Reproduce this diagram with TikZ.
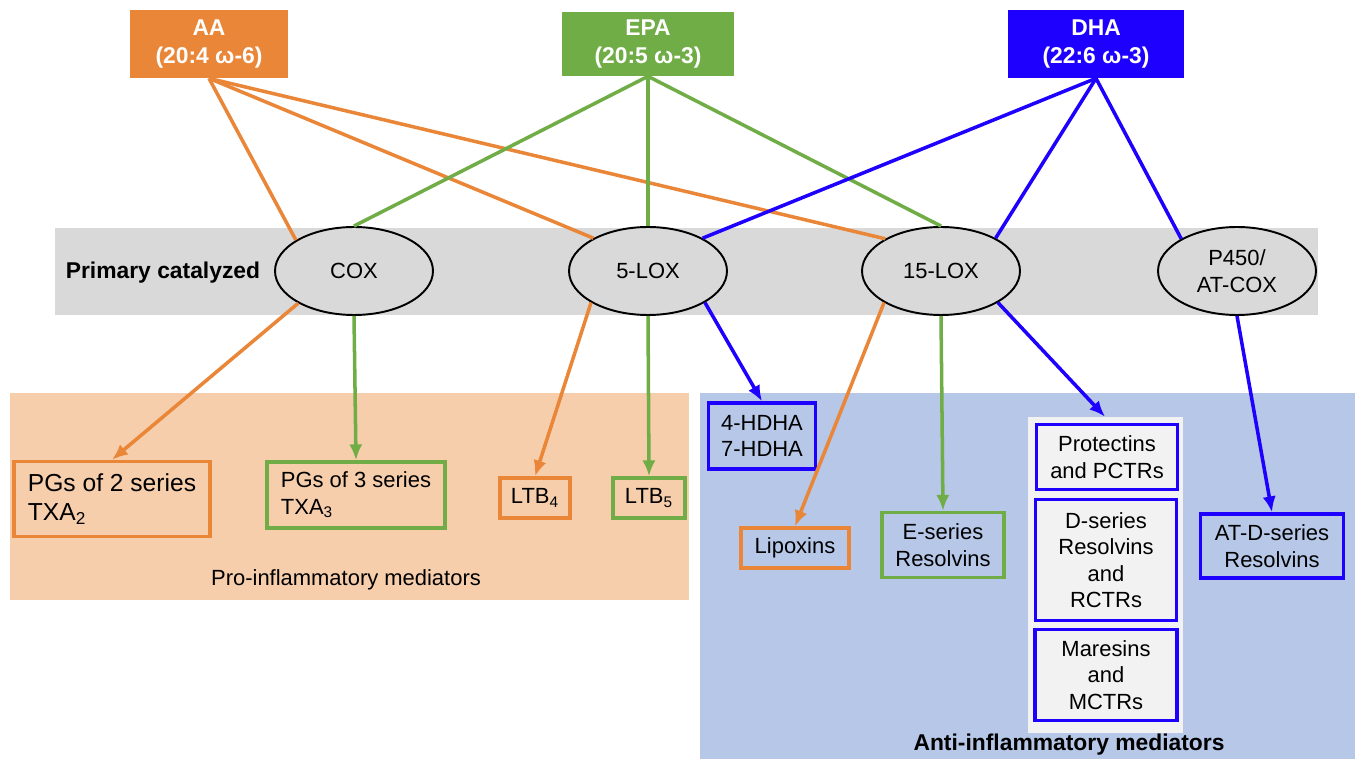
\documentclass[tikz,border=0pt]{standalone}
\usepackage{fontspec}
\setmainfont{Liberation Sans}
\usepackage{tikz}
\usetikzlibrary{arrows,arrows.meta,shapes,positioning}

\definecolor{aaorange}{RGB}{234,134,56}
\definecolor{epagreen}{RGB}{112,173,71}
\definecolor{dhablue}{RGB}{30,0,255}
\definecolor{bandgray}{RGB}{217,217,217}
\definecolor{probg}{RGB}{246,206,172}
\definecolor{antibg}{RGB}{182,199,232}
\definecolor{panelgray}{RGB}{242,242,242}

\begin{document}
\begin{tikzpicture}[x=0.02cm, y=-0.02cm, font=\fontsize{12.5}{15}\selectfont,
    src/.style={rectangle,inner sep=0pt,text=white,align=center,font=\fontsize{13}{16}\selectfont\bfseries},
    enz/.style={ellipse,draw,line width=1.1pt,minimum width=3.16cm,minimum height=1.76cm,inner sep=0pt,align=center},
    prod/.style={rectangle,draw,line width=2pt,inner sep=0pt,align=center},
    link/.style={line width=2pt},
    arr/.style={line width=2pt,-{Latex[length=9pt,width=7.5pt]}}]
              \useasboundingbox (0,0) rectangle (1355,759);
              \fill[bandgray] (55,228) rectangle (1318,315);
              \fill[probg] (10,393) rectangle (689,600);
              \fill[antibg] (700,393) rectangle (1355,759);

              \node[src,fill=aaorange,minimum width=3.16cm,minimum height=1.36cm] (AA) at (209,44) {AA\\(20:4 ω-6)};
              \node[src,fill=epagreen,minimum width=3.44cm,minimum height=1.28cm] (EPA) at (648,44) {EPA\\(20:5 ω-3)};
              \node[src,fill=dhablue,minimum width=3.52cm,minimum height=1.36cm] (DHA) at (1096,44) {DHA\\(22:6 ω-3)};

              \node[font=\fontsize{13}{16}\selectfont\bfseries] (prim) at (163,273) {Primary catalyzed};
              \node[enz] (COX) at (354,271) {COX};
              \node[enz] (LOX5) at (648,271) {5-LOX};
              \node[enz] (LOX15) at (941,271) {15-LOX};
              \node[enz] (P450) at (1237,271) {P450/\\AT-COX};

              \node[prod,draw=aaorange,minimum width=3.92cm,minimum height=1.5cm,align=left,font=\fontsize{14}{17}\selectfont] (PG2) at (112,499) {PGs of 2 series\\TXA\textsubscript{2}};
              \node[prod,draw=epagreen,minimum width=3.56cm,minimum height=1.32cm,align=left] (PG3) at (356,495) {PGs of 3 series\\TXA\textsubscript{3}};
              \node[prod,draw=aaorange,minimum width=1.4cm,minimum height=0.8cm] (LTB4) at (535,498) {LTB\textsubscript{4}};
              \node[prod,draw=epagreen,minimum width=1.44cm,minimum height=0.8cm] (LTB5) at (649,498) {LTB\textsubscript{5}};
              \node (pro) at (346,580) {Pro-inflammatory mediators};

              \node[fill=panelgray,minimum width=3.1cm,minimum height=6.32cm,inner sep=0pt] (panel) at (1105,575) {};
              \node[prod,draw=dhablue,minimum width=2.14cm,minimum height=1.32cm,align=left] (HDHA) at (762,436) {4-HDHA\\7-HDHA};
              \node[prod,draw=aaorange,minimum width=2.16cm,minimum height=0.8cm] (LX) at (795,548) {Lipoxins};
              \node[prod,draw=epagreen,minimum width=2.44cm,minimum height=1.3cm] (ERv) at (943,545) {E-series\\Resolvins};
              \node[prod,draw=dhablue,minimum width=2.82cm,minimum height=1.3cm] (PD) at (1107,457) {Protectins\\and PCTRs};
              \node[prod,draw=dhablue,minimum width=2.82cm,minimum height=2.42cm] (DRv) at (1106,560) {D-series\\Resolvins\\and\\RCTRs};
              \node[prod,draw=dhablue,minimum width=2.84cm,minimum height=1.82cm] (MaR) at (1106,675) {Maresins\\and\\MCTRs};
              \node[prod,draw=dhablue,minimum width=2.86cm,minimum height=1.28cm] (ATRv) at (1272,546) {AT-D-series\\Resolvins};
              \node[font=\fontsize{13}{16}\selectfont\bfseries] (anti) at (1069,745) {Anti-inflammatory mediators};

              % precursors to enzymes
              \draw[link,aaorange] (AA.south) -- (COX.152);
              \draw[link,aaorange] (AA.south) -- (LOX5.149);
              \draw[link,aaorange] (AA.south) -- (LOX15.150);
              \draw[link,epagreen] (EPA.south) -- (COX.north);
              \draw[link,epagreen] (EPA.south) -- (LOX5.north);
              \draw[link,epagreen] (EPA.south) -- (LOX15.north);
              \draw[link,dhablue] (DHA.south) -- (LOX5.31);
              \draw[link,dhablue] (DHA.south) -- (LOX15.31);
              \draw[link,dhablue] (DHA.south) -- (P450.150);

              % enzymes to mediators
              \draw[arr,aaorange] (COX.210) -- (PG2.north);
              \draw[arr,epagreen] (COX.south) -- (PG3.north);
              \draw[arr,aaorange] (LOX5.209) -- (LTB4.north);
              \draw[arr,epagreen] (LOX5.south) -- (LTB5.north);
              \draw[arr,dhablue] (LOX5.331) -- (HDHA.north);
              \draw[arr,aaorange] (LOX15.209) -- (LX.north);
              \draw[arr,epagreen] (LOX15.south) -- (ERv.north);
              \draw[arr,dhablue] (LOX15.331) -- (panel.north);
              \draw[arr,dhablue] (P450.south) -- (ATRv.north);
\end{tikzpicture}
\end{document}
